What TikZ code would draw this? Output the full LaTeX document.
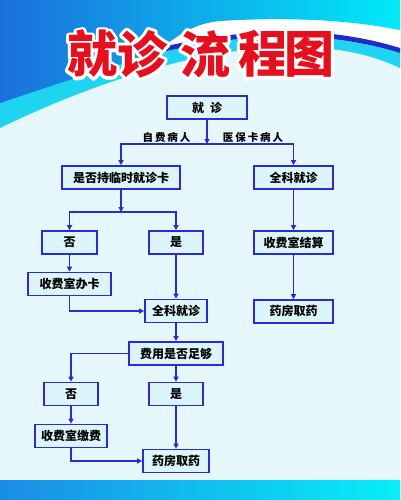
\documentclass[tikz,border=0pt]{standalone}
\usepackage{fontspec}
\newfontfamily\cjk{Noto Sans CJK SC}
\newfontfamily\cjkls{Noto Sans CJK SC}[LetterSpace=18]
\usetikzlibrary{arrows.meta}
\definecolor{bgc}{HTML}{E6F7FB}
\definecolor{boxfill}{HTML}{DCF5FB}
\definecolor{boxblue}{HTML}{2B2BD0}
\definecolor{lineblue}{HTML}{2B2BD6}
\definecolor{titlered}{HTML}{E60F1E}
\definecolor{navy}{HTML}{1F2EC8}
\definecolor{cyanband}{HTML}{1ED4F0}
\definecolor{topL}{HTML}{1B6FDC}
\definecolor{topM}{HTML}{14B0EE}
\definecolor{topR}{HTML}{00EAF8}
\definecolor{botL}{HTML}{1B8CE6}
\definecolor{botR}{HTML}{08EEF8}
\newcommand{\haloch}[1]{\rlap{\color{white}\special{pdf:literal direct 1 Tr 6 w 1 j}#1\special{pdf:literal direct 0 Tr 1 w}}#1}
\tikzset{
  box/.style={draw=boxblue, line width=1.6pt, fill=boxfill, minimum height=23pt,
    inner sep=0pt, font=\cjk\bfseries\fontsize{12}{12}\selectfont, text=black},
  arr/.style={draw=lineblue, line width=1.6pt, -{Triangle[length=5pt,width=5pt]}},
  lab/.style={font=\cjkls\bfseries\fontsize{10.5}{12}\selectfont, text=black, inner sep=0pt},
  ttl/.style={font=\cjk\bfseries\fontsize{50}{50}\selectfont, text=titlered, inner sep=0pt}
}
\begin{document}
\begin{tikzpicture}[x=1pt,y=-1pt]
\useasboundingbox (0,0) rectangle (400,500);
% background
\fill[bgc] (0,0) rectangle (400,500);
\fill[cyanband] (0,0) -- (0,128) .. controls (140,60) and (300,20) .. (400,68) -- (400,0) -- cycle;
\fill[white] (0,0) -- (0,103) .. controls (120,60) and (260,10) .. (400,53) -- (400,0) -- cycle;
\fill[navy] (0,103) .. controls (120,60) and (260,10) .. (400,53) -- (400,48) .. controls (260,5) and (120,55) .. (0,98) -- cycle;
\shade[left color=topL, middle color=topM, right color=topR]
  (0,0) -- (0,103) .. controls (50,86) and (100,70) .. (140,58)
  .. controls (170,48) and (180,25) .. (220,21)
  .. controls (300,16) and (360,22) .. (400,30) -- (400,0) -- cycle;
\shade[left color=botL, right color=botR] (0,480) rectangle (400,500);
% title
\node[ttl] (t1) at (92,54) {\haloch{就}};
\node[ttl] (t2) at (142,54) {\haloch{诊}};
\node[ttl] (t3) at (205,54) {\haloch{流}};
\node[ttl] (t4) at (263,54) {\haloch{程}};
\node[ttl] (t5) at (309,54) {\haloch{图}};
% boxes
\node[box, minimum width=80pt] (b1) at (207,107.5) {就\hspace{6pt}诊};
\node[box, minimum width=118pt] (b2) at (121,177.5) {是否持临时就诊卡};
\node[box, minimum width=79pt] (b3) at (293.5,177.5) {全科就诊};
\node[box, minimum width=55pt] (b4) at (69.5,242.5) {否};
\node[box, minimum width=54pt] (b5) at (176,242.5) {是};
\node[box, minimum width=79pt] (b6) at (293.5,242.5) {收费室结算};
\node[box, minimum width=83pt] (b7) at (69.5,284) {收费室办卡};
\node[box, minimum width=62pt] (b8) at (176,311) {全科就诊};
\node[box, minimum width=79pt] (b9) at (293.5,311.5) {药房取药};
\node[box, minimum width=94pt] (b10) at (176,353.5) {费用是否足够};
\node[box, minimum width=54pt] (b11) at (71,394) {否};
\node[box, minimum width=54pt] (b12) at (176,394) {是};
\node[box, minimum width=72pt] (b13) at (71,436) {收费室缴费};
\node[box, minimum width=66pt] (b14) at (176,461) {药房取药};
% labels
\node[lab] (l1) at (166.5,137) {自费病人};
\node[lab] (l2) at (253,137) {医保卡病人};
% junctions
\coordinate (j1) at (207,144);
\coordinate (j2) at (121,212);
% connectors
\draw[arr] (b1) -- (j1);
\draw[arr] (j1) -| (b2);
\draw[arr] (j1) -| (b3);
\draw[arr] (b2) -- (j2);
\draw[arr] (j2) -| (b4);
\draw[arr] (j2) -| (b5);
\draw[arr] (b3) -- (b6);
\draw[arr] (b6) -- (b9);
\draw[arr] (b4) -- (b7);
\draw[arr] (b5) -- (b8);
\draw[arr] (b7) |- (b8);
\draw[arr] (b8) -- (b10);
\draw[arr] (b10) -| (b11);
\draw[arr] (b10) -- (b12);
\draw[arr] (b11) -- (b13);
\draw[arr] (b12) -- (b14);
\draw[arr] (b13) |- (b14);
\end{tikzpicture}
\end{document}
